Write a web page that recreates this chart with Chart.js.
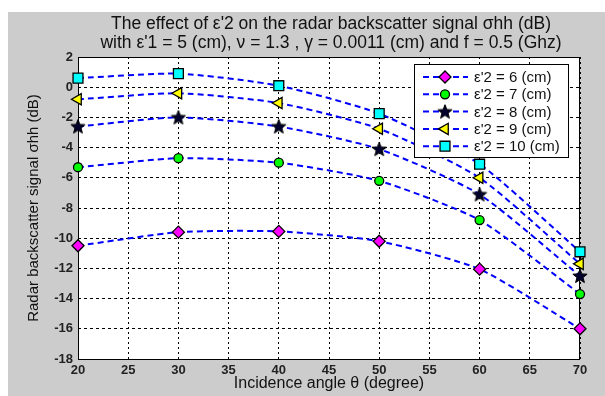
<!DOCTYPE html>
<html>
<head>
<meta charset="utf-8">
<script src="https://cdn.jsdelivr.net/npm/chart.js@4.4.1/dist/chart.umd.min.js"></script>
<style>
  html, body { margin: 0; padding: 0; background: #fff; }
  canvas { display: block; }
</style>
</head>
<body>
<canvas id="chart" width="605" height="396"></canvas>
<script>
// data
const angles = [20, 30, 40, 50, 60, 70];
const eps6  = [-10.5, -9.6, -9.55, -10.2, -12.05, -16.0];
const eps7  = [-5.3, -4.7, -5.0, -6.2, -8.8, -13.7];
const eps8  = [-2.6, -2.0, -2.6, -4.1, -7.1, -12.5];
const eps9  = [-0.8, -0.4, -1.05, -2.75, -6.0, -11.7];
const eps10 = [0.6, 0.9, 0.1, -1.75, -5.1, -10.9];
const seriesLabels = ["ε'2 = 6 (cm)", "ε'2 = 7 (cm)", "ε'2 = 8 (cm)", "ε'2 = 9 (cm)", "ε'2 = 10 (cm)"];
const titleLines = [
    "The effect of ε'2 on the radar backscatter signal σhh (dB)",
    "with ε'1 = 5 (cm), ν = 1.3 , γ = 0.0011 (cm) and f = 0.5 (Ghz)"
];
const xTitle = "Incidence angle θ (degree)";
const yTitle = "Radar backscatter signal σhh (dB)";

// filled pentagram marker
function makeStar() {
    const c = document.createElement("canvas");
    c.width = 16; c.height = 16;
    const g = c.getContext("2d");
    g.beginPath();
    for (let i = 0; i < 10; i++) {
        const r = i % 2 === 0 ? 7.5 : 3.2;
        const a = -Math.PI / 2 + i * Math.PI / 5;
        const px = 8 + r * Math.cos(a), py = 8.5 + r * Math.sin(a);
        i === 0 ? g.moveTo(px, py) : g.lineTo(px, py);
    }
    g.closePath();
    g.fillStyle = "#00002a";
    g.fill();
    g.strokeStyle = "#000";
    g.lineWidth = 1;
    g.stroke();
    return c;
}
const starImg = makeStar();

const markers = [
    { pointStyle: "rectRot", radius: 6, rotation: 0, bg: "#ff00ff" },
    { pointStyle: "circle", radius: 4.5, rotation: 0, bg: "#00ff00" },
    { pointStyle: starImg, radius: 7, rotation: 0, bg: "#000" },
    { pointStyle: "triangle", radius: 6.5, rotation: -90, bg: "#ffff00" },
    { pointStyle: "rect", radius: 7, rotation: 0, bg: "#00ffff" }
];

const allSeries = [eps6, eps7, eps8, eps9, eps10];
const datasets = allSeries.map((vals, i) => ({
    label: seriesLabels[i],
    data: vals.map((v, j) => ({ x: angles[j], y: v })),
    borderColor: "#0000ff",
    borderWidth: 2,
    borderDash: [6, 4],
    tension: 0.2,
    fill: false,
    clip: false,
    pointStyle: markers[i].pointStyle,
    pointRadius: markers[i].radius,
    pointRotation: markers[i].rotation,
    pointBackgroundColor: markers[i].bg,
    pointBorderColor: "#000",
    pointBorderWidth: 1.3
}));

const frame = {
    id: "frame",
    beforeDraw(chart) {
        const { ctx, chartArea: a } = chart;
        ctx.save();
        ctx.fillStyle = "#fff";
        ctx.fillRect(0, 0, chart.width, chart.height);
        ctx.fillStyle = "#cccccc";
        ctx.fillRect(8, 12, chart.width - 8, chart.height - 12);
        ctx.fillStyle = "#fff";
        ctx.fillRect(a.left, a.top, a.right - a.left, a.bottom - a.top);
        ctx.restore();
    },
    beforeDatasetsDraw(chart) {
        const { ctx, chartArea: a } = chart;
        ctx.save();
        ctx.strokeStyle = "#000";
        ctx.lineWidth = 1;
        ctx.strokeRect(a.left + 0.5, a.top + 0.5, a.right - a.left - 1, a.bottom - a.top);
        ctx.restore();
    },
    afterDraw(chart) {
        const { ctx, chartArea: a } = chart;
        ctx.save();
        // title
        ctx.fillStyle = "#111";
        ctx.font = "17.5px 'Liberation Sans', Arial, sans-serif";
        ctx.textAlign = "center";
        ctx.textBaseline = "middle";
        const cx = (a.left + a.right) / 2 + 2;
        ctx.fillText(titleLines[0], cx, 24);
        ctx.fillText(titleLines[1], cx, 43);

        // legend
        const lx = 414, ly = 64, lw = 154, lh = 93;
        ctx.fillStyle = "#fff";
        ctx.fillRect(lx, ly, lw, lh);
        ctx.strokeStyle = "#000";
        ctx.lineWidth = 1;
        ctx.strokeRect(lx + 0.5, ly + 0.5, lw, lh);
        chart.data.datasets.forEach((ds, i) => {
            const y = 77 + i * 17.3;
            ctx.save();
            ctx.strokeStyle = ds.borderColor;
            ctx.lineWidth = 2;
            ctx.setLineDash([6, 4]);
            ctx.beginPath();
            ctx.moveTo(423, y);
            ctx.lineTo(468, y);
            ctx.stroke();
            ctx.restore();
            ctx.save();
            ctx.fillStyle = ds.pointBackgroundColor;
            ctx.strokeStyle = ds.pointBorderColor;
            ctx.lineWidth = ds.pointBorderWidth;
            Chart.helpers.drawPoint(ctx, {
                pointStyle: ds.pointStyle,
                rotation: ds.pointRotation,
                radius: ds.pointRadius,
                borderWidth: ds.pointBorderWidth
            }, 445, y);
            ctx.restore();
            ctx.fillStyle = "#111";
            ctx.font = "15px 'Liberation Sans', Arial, sans-serif";
            ctx.textAlign = "left";
            ctx.textBaseline = "middle";
            ctx.fillText(ds.label, 474, y + 1);
        });
        ctx.restore();
    }
};

const tickFont = { family: "'Liberation Sans', Arial, sans-serif", size: 13, weight: "bold" };

new Chart(document.getElementById("chart"), {
    type: "line",
    data: { datasets },
    options: {
        responsive: false,
        animation: false,
        devicePixelRatio: 1,
        layout: { padding: { top: 57, right: 25, left: 0, bottom: 0 } },
        plugins: { legend: { display: false }, title: { display: false }, tooltip: { enabled: false } },
        scales: {
            x: {
                type: "linear",
                min: 20, max: 70,
                afterFit: s => { s.height = 37; },
                ticks: { stepSize: 5, color: "#222", font: tickFont, padding: 4, maxRotation: 0 },
                grid: { color: "#000", lineWidth: 1, drawTicks: false, borderDash: [2, 3] },
                border: { display: false, dash: [2, 3] },
                title: {
                    display: true, text: xTitle, color: "#111",
                    font: { family: "'Liberation Sans', Arial, sans-serif", size: 16 },
                    padding: { top: 0, bottom: 3 }
                }
            },
            y: {
                min: -18, max: 2,
                afterFit: s => { s.width = 78; },
                ticks: { stepSize: 2, color: "#222", font: tickFont, padding: 5 },
                grid: { color: "#000", lineWidth: 1, drawTicks: false, borderDash: [3, 3] },
                border: { display: false, dash: [3, 3] },
                title: {
                    display: true, text: yTitle, color: "#111",
                    font: { family: "'Liberation Sans', Arial, sans-serif", size: 15 },
                    padding: { top: 25, bottom: 0 }
                }
            }
        }
    },
    plugins: [frame]
});
</script>
</body>
</html>
